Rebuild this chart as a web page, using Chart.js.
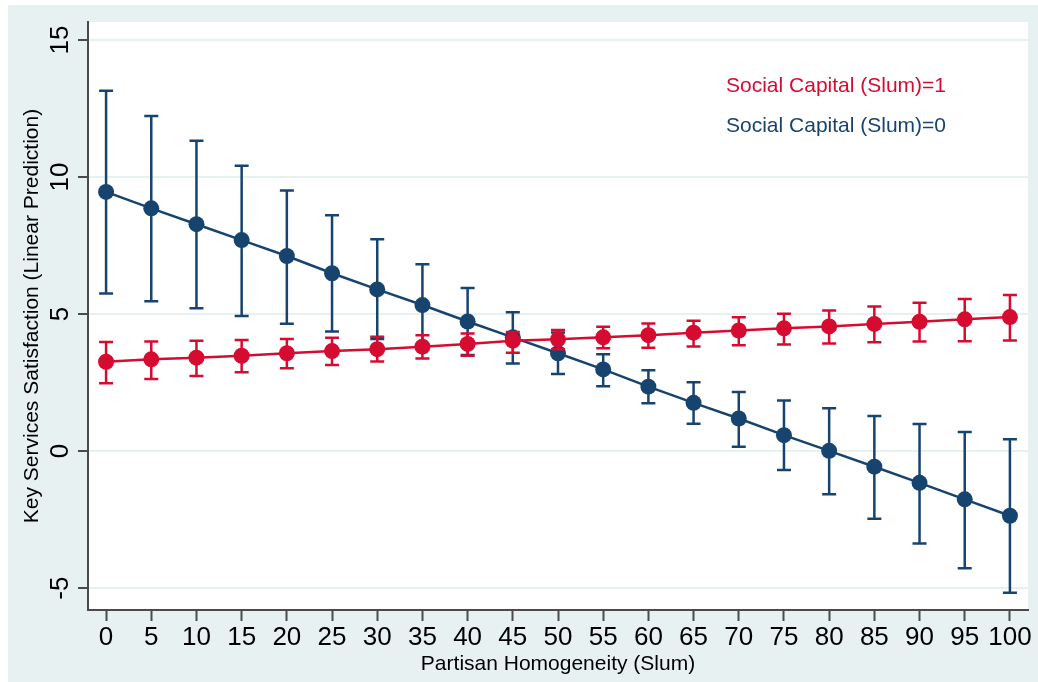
<!DOCTYPE html>
<html>
<head>
<meta charset="utf-8">
<title>Key Services Satisfaction by Partisan Homogeneity</title>
<script src="https://cdn.jsdelivr.net/npm/chart.js@4.4.1/dist/chart.umd.min.js"></script>
<style>
  html, body { margin: 0; padding: 0; background: #ffffff; }
  #wrap { width: 1038px; height: 682px; }
</style>
</head>
<body>
<div id="wrap"><canvas id="chart" width="1038" height="682"></canvas></div>
<script>
// Partisan homogeneity (slum) values at which predictions were computed
const homogeneity = [0, 5, 10, 15, 20, 25, 30, 35, 40, 45, 50, 55, 60, 65, 70, 75, 80, 85, 90, 95, 100];

// Social Capital (Slum)=1: linear prediction and 95% CI bounds
const slum1Pred = [3.26, 3.35, 3.41, 3.48, 3.57, 3.65, 3.72, 3.81, 3.91, 4.03, 4.08, 4.15, 4.23, 4.32, 4.40, 4.48, 4.55, 4.64, 4.72, 4.81, 4.89];
const slum1Lo   = [2.48, 2.63, 2.74, 2.88, 3.02, 3.14, 3.27, 3.38, 3.48, 3.59, 3.72, 3.75, 3.77, 3.82, 3.86, 3.89, 3.93, 3.97, 4.00, 4.01, 4.04];
const slum1Hi   = [3.98, 4.00, 4.03, 4.05, 4.09, 4.14, 4.17, 4.23, 4.29, 4.35, 4.42, 4.54, 4.66, 4.76, 4.88, 5.01, 5.13, 5.28, 5.41, 5.55, 5.70];

// Social Capital (Slum)=0: linear prediction and 95% CI bounds
const slum0Pred = [9.46, 8.86, 8.28, 7.70, 7.12, 6.49, 5.90, 5.33, 4.73, 4.15, 3.57, 2.98, 2.35, 1.76, 1.19, 0.58, 0.01, -0.57, -1.16, -1.76, -2.36];
const slum0Lo   = [5.75, 5.47, 5.21, 4.93, 4.65, 4.36, 4.09, 3.84, 3.51, 3.20, 2.81, 2.37, 1.75, 1.00, 0.16, -0.69, -1.58, -2.47, -3.37, -4.28, -5.17];
const slum0Hi   = [13.15, 12.23, 11.33, 10.41, 9.51, 8.61, 7.73, 6.82, 5.95, 5.07, 4.33, 3.53, 2.95, 2.51, 2.16, 1.85, 1.56, 1.28, 0.99, 0.70, 0.43];

// Axis tick values
const xTickValues = [0, 5, 10, 15, 20, 25, 30, 35, 40, 45, 50, 55, 60, 65, 70, 75, 80, 85, 90, 95, 100];
const yTickValues = [-5, 0, 5, 10, 15];

const seriesLabels = ['Social Capital (Slum)=1', 'Social Capital (Slum)=0'];

const RED = '#d50b30';
const BLUE = '#17446f';
const AXIS = '#4a4a4a';
const BG_TINT = '#e8f1f2';
const FONT = '"Liberation Sans", Arial, Helvetica, sans-serif';

const toPoints = (ys) => homogeneity.map((x, i) => ({ x: x, y: ys[i] }));

// Paints the white outer margin, the tinted frame and the white plot region
const framePlugin = {
  id: 'frame',
  beforeDraw(chart) {
    const { ctx, chartArea } = chart;
    ctx.save();
    ctx.fillStyle = '#ffffff';
    ctx.fillRect(0, 0, chart.width, chart.height);
    ctx.fillStyle = BG_TINT;
    ctx.fillRect(8, 5, chart.width - 8, chart.height - 5);
    ctx.fillStyle = '#ffffff';
    ctx.fillRect(chartArea.left, chartArea.top, chartArea.right - chartArea.left, chartArea.bottom - chartArea.top);
    ctx.restore();
  }
};

// Confidence-interval whiskers, drawn just before each dataset's line and markers
const errorBarPlugin = {
  id: 'errorBars',
  beforeDatasetDraw(chart, args) {
    const ds = chart.data.datasets[args.index];
    if (!ds.lo || !ds.hi) return;
    const { ctx } = chart;
    const xs = chart.scales.x, ys = chart.scales.y;
    const half = 7;
    ctx.save();
    ctx.strokeStyle = ds.borderColor;
    ctx.lineWidth = 2.5;
    ctx.lineCap = 'butt';
    homogeneity.forEach((xv, i) => {
      const px = xs.getPixelForValue(xv);
      const pLo = ys.getPixelForValue(ds.lo[i]);
      const pHi = ys.getPixelForValue(ds.hi[i]);
      ctx.beginPath();
      ctx.moveTo(px, pLo); ctx.lineTo(px, pHi);
      ctx.moveTo(px - half, pLo); ctx.lineTo(px + half, pLo);
      ctx.moveTo(px - half, pHi); ctx.lineTo(px + half, pHi);
      ctx.stroke();
    });
    ctx.restore();
  }
};

// Vertical-axis tick labels, rotated to read bottom-to-top
const yTickLabelPlugin = {
  id: 'yTickLabels',
  afterDraw(chart) {
    const { ctx } = chart;
    const s = chart.scales.y;
    ctx.save();
    ctx.font = '26px ' + FONT;
    ctx.fillStyle = '#000000';
    ctx.textAlign = 'center';
    ctx.textBaseline = 'alphabetic';
    s.ticks.forEach(t => {
      const py = s.getPixelForValue(t.value);
      ctx.save();
      ctx.translate(s.right - 20, py);
      ctx.rotate(-Math.PI / 2);
      ctx.fillText(String(t.value), 0, 0);
      ctx.restore();
    });
    ctx.restore();
  }
};

// Series key placed inside the plot region, one coloured text line per series
const textKeyPlugin = {
  id: 'textKey',
  afterDatasetsDraw(chart) {
    const { ctx, chartArea } = chart;
    ctx.save();
    ctx.font = '21px ' + FONT;
    ctx.textAlign = 'left';
    ctx.textBaseline = 'alphabetic';
    chart.data.datasets.forEach((ds, i) => {
      ctx.fillStyle = ds.borderColor;
      ctx.fillText(ds.label, chartArea.left + 638, chartArea.top + 70 + i * 40);
    });
    ctx.restore();
  }
};

const seriesStyle = (color) => ({
  borderColor: color,
  backgroundColor: color,
  pointBackgroundColor: color,
  pointBorderColor: color,
  borderWidth: 2.5,
  pointRadius: 8,
  pointBorderWidth: 0,
  tension: 0,
  fill: false
});

new Chart(document.getElementById('chart'), {
  type: 'line',
  data: {
    datasets: [
      Object.assign({ label: seriesLabels[0], data: toPoints(slum1Pred), lo: slum1Lo, hi: slum1Hi }, seriesStyle(RED)),
      Object.assign({ label: seriesLabels[1], data: toPoints(slum0Pred), lo: slum0Lo, hi: slum0Hi }, seriesStyle(BLUE))
    ]
  },
  options: {
    responsive: false,
    animation: false,
    devicePixelRatio: 1,
    layout: { padding: { top: 22, right: 10, left: 0, bottom: 0 } },
    plugins: {
      legend: { display: false },
      tooltip: { enabled: false }
    },
    scales: {
      x: {
        type: 'linear',
        min: -2,
        max: 102,
        afterBuildTicks(scale) { scale.ticks = xTickValues.map(v => ({ value: v })); },
        afterFit(scale) { scale.height = 72; },
        ticks: {
          autoSkip: false,
          maxRotation: 0,
          minRotation: 0,
          padding: 1,
          color: '#000000',
          font: { family: FONT, size: 26, lineHeight: 1.2 }
        },
        grid: {
          drawOnChartArea: false,
          drawTicks: true,
          tickLength: 11,
          tickColor: AXIS,
          tickWidth: 2
        },
        border: { display: true, color: AXIS, width: 2 },
        title: {
          display: true,
          text: 'Partisan Homogeneity (Slum)',
          color: '#000000',
          font: { family: FONT, size: 21, lineHeight: 1.2 },
          padding: { top: 0, bottom: 5 }
        }
      },
      y: {
        type: 'linear',
        min: -5.8,
        max: 15.66,
        afterBuildTicks(scale) { scale.ticks = yTickValues.map(v => ({ value: v })); },
        afterFit(scale) { scale.width = 88; },
        ticks: { display: false, includeBounds: false },
        grid: {
          color: BG_TINT,
          lineWidth: 2,
          drawTicks: true,
          tickLength: 10,
          tickColor: AXIS,
          tickWidth: 2
        },
        border: { display: true, color: AXIS, width: 2 },
        title: {
          display: true,
          text: 'Key Services Satisfaction (Linear Prediction)',
          color: '#000000',
          font: { family: FONT, size: 21, lineHeight: 1.2 },
          padding: { top: 20, bottom: 0 }
        }
      }
    }
  },
  plugins: [framePlugin, errorBarPlugin, yTickLabelPlugin, textKeyPlugin]
});
</script>
</body>
</html>
